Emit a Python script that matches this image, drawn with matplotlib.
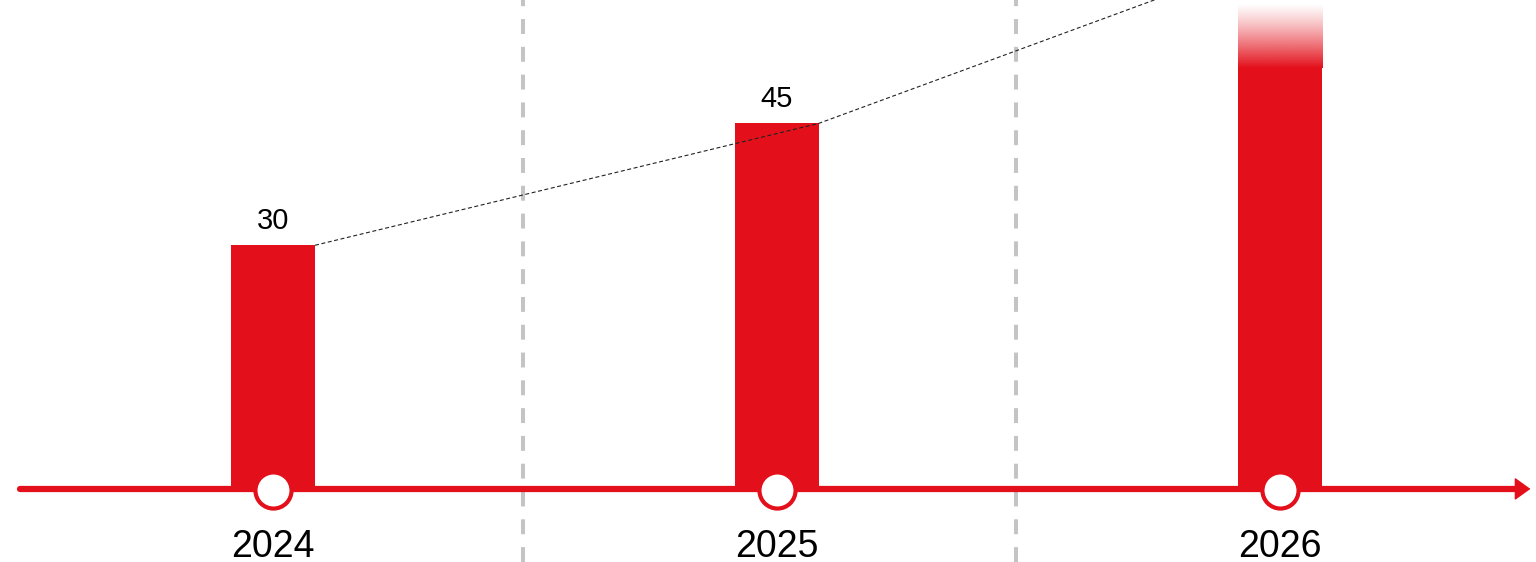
import numpy as np
import matplotlib
matplotlib.use("Agg")
import matplotlib.pyplot as plt

# datos
years = ["2024", "2025", "2026"]
values = [30, 45, 64]
labels = ["30", "45", ""]
separators = [0.497, 1.476]

RED = "#e3101b"
plt.rcParams["font.family"] = ["Liberation Sans", "DejaVu Sans"]

fig = plt.figure(figsize=(15.36, 5.62), dpi=100)
ax = fig.add_axes([0, 0, 1, 1])
XL = (-0.542, 2.508)
YL = (-9.0, 60.2)
ax.axis("off")

x = np.arange(len(years))
w = 0.167

# lineas verticales grises
for s in separators:
    ax.axvline(s, color="#c4c4c4", lw=2.9, linestyle=(0, (3.7, 3.2)), zorder=1)

# barras (la ultima se desvanece arriba)
fade = 8
for i, v in enumerate(values):
    top = v if i < len(values) - 1 else YL[1] - fade - 0.4
    ax.bar(x[i], top, width=w, color=RED, zorder=2, linewidth=0)
    if labels[i]:
        ax.text(x[i], v + 1.3, labels[i], ha="center", va="bottom", fontsize=21, color="black")

# degradado barra 2026
grad = np.ones((100, 1, 4))
grad[:, 0, :3] = matplotlib.colors.to_rgb(RED)
grad[:, 0, 3] = np.linspace(1, 0, 100) ** 1.2
y0 = YL[1] - fade - 0.4
ax.imshow(grad, extent=[x[2] - w / 2, x[2] + w / 2, y0, y0 + fade], origin="lower",
          aspect="auto", zorder=2, interpolation="bilinear")

# linea de tendencia punteada
tx = [x[0] + w / 2, x[1] + w / 2, x[2] - w / 2]
ax.plot(tx, values, color="#222222", lw=0.8, linestyle=(0, (3.6, 2.3)), zorder=3)

# eje con flecha
ax.plot([-0.502, 2.47], [0, 0], color=RED, lw=4.5, solid_capstyle="round", zorder=4)
ax.annotate("", xy=(2.497, 0), xytext=(2.46, 0), annotation_clip=False,
            arrowprops=dict(arrowstyle="-|>,head_length=0.5,head_width=0.36", color=RED,
                            lw=1, mutation_scale=20, shrinkA=0, shrinkB=0), zorder=4)

# circulos
ax.plot(x, [-0.1] * len(x), "o", ms=26, mfc="white", mec=RED, mew=3, zorder=5)

# anos
for i, y in enumerate(years):
    ax.text(x[i], -7.1, y, ha="center", va="center", fontsize=27, color="black")

ax.set_xlim(*XL)
ax.set_ylim(*YL)
fig.savefig("out.png", dpi=100)
